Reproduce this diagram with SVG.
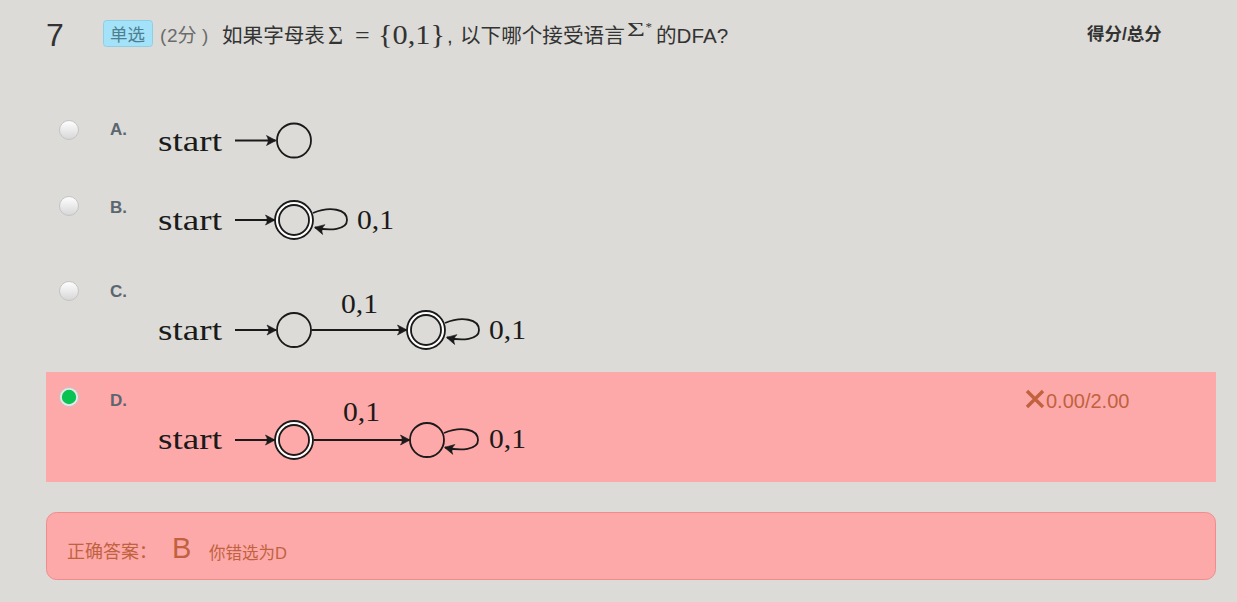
<svg xmlns="http://www.w3.org/2000/svg" width="1237" height="602" viewBox="0 0 1237 602">
<style>
.sans{font-family:"Liberation Sans","Noto Sans CJK SC",sans-serif}
.cjk{font-family:"Liberation Sans","Noto Sans CJK SC",sans-serif;font-size:20.6px;fill:#333}
.math{font-family:"Liberation Serif","Noto Sans CJK SC",serif;fill:#333}
.tk{font-family:"Liberation Serif",serif;fill:#1a1a1a}
.start{font-size:29px}
.lab{font-size:27px}
.opt{font-family:"Liberation Sans",sans-serif;font-weight:bold;font-size:17px;fill:#5b6670}
.st{fill:none;stroke:#1a1a1a;stroke-width:1.8}
.ring{fill:none;stroke:#fff;stroke-width:2.4}
.edge{fill:none;stroke:#1a1a1a;stroke-width:1.8;marker-end:url(#arr)}
.radio{fill:url(#rg);stroke:#c4c4c4;stroke-width:1}
.ans{fill:#c1623f}
</style>
<defs>
<marker id="arr" markerUnits="userSpaceOnUse" markerWidth="14" markerHeight="14" viewBox="-11 -7 12 14" refX="0" refY="0" orient="auto">
<path d="M0.5,0 L-9,-5 Q-5.5,0 -9,5 Z" fill="#1a1a1a" stroke="#1a1a1a" stroke-width="0.6" stroke-linejoin="round"/>
</marker>
<linearGradient id="rg" x1="0" y1="0" x2="0" y2="1">
<stop offset="0" stop-color="#ffffff"/>
<stop offset="1" stop-color="#d6d6d6"/>
</linearGradient>
</defs>
<rect x="0" y="0" width="1237" height="602" fill="#dcdbd7"/>

<g id="header">
<text x="46" y="46" class="sans" font-size="32" fill="#333">7</text>
<rect x="103.5" y="20.5" width="49" height="26" rx="3" fill="#a3e2f8" stroke="#8fcfe4"/>
<text x="110" y="41" class="sans" font-size="17.5" fill="#4e7f90">单选</text>
<text y="42" class="sans" font-size="19" fill="#6b6b6b"><tspan x="160">(</tspan><tspan x="167">2分</tspan><tspan x="202">)</tspan></text>
<text x="222" y="43" class="cjk">如果字母表</text>
<text x="328" y="44" class="math" font-size="26">Σ</text>
<text x="355" y="44" class="math" font-size="26">=</text>
<text x="378" y="44" class="math" font-size="27" textLength="67" lengthAdjust="spacingAndGlyphs">{0,1}</text>
<text x="447" y="43" class="cjk">,</text>
<text x="460" y="43" class="cjk">以下哪个接受语言</text>
<text x="627" y="36" class="math" font-size="19" fill="#555" textLength="18" lengthAdjust="spacingAndGlyphs">Σ</text>
<text x="645.5" y="31" class="math" font-size="13" fill="#555">*</text>
<text x="656" y="43" class="cjk">的DFA?</text>
<text x="1087" y="40" class="sans" font-size="17.5" font-weight="bold" fill="#333">得分/总分</text>
</g>

<g id="optionA">
<circle class="radio" cx="69" cy="130" r="9.5"/>
<text x="110" y="135" class="opt">A.</text>
<text x="158" y="151" class="tk start" textLength="64" lengthAdjust="spacingAndGlyphs">start</text>
<g id="A-q0"><circle class="st" cx="294" cy="140.5" r="17"/></g>
</g>

<g id="optionB">
<circle class="radio" cx="69" cy="206" r="9.5"/>
<text x="110" y="213" class="opt">B.</text>
<text x="158" y="230" class="tk start" textLength="64" lengthAdjust="spacingAndGlyphs">start</text>
<g id="B-q0"><circle class="ring" cx="294" cy="220" r="17"/><circle class="st" cx="294" cy="220" r="19"/><circle class="st" cx="294" cy="220" r="15"/></g>
<text x="357" y="229" class="tk lab" textLength="37" lengthAdjust="spacingAndGlyphs">0,1</text>
</g>

<g id="optionC">
<circle class="radio" cx="69" cy="291" r="9.5"/>
<text x="110" y="297" class="opt">C.</text>
<text x="158" y="340" class="tk start" textLength="64" lengthAdjust="spacingAndGlyphs">start</text>
<g id="C-q0"><circle class="st" cx="294" cy="330" r="17"/></g>
<g id="C-q1"><circle class="ring" cx="426" cy="330" r="17"/><circle class="st" cx="426" cy="330" r="19"/><circle class="st" cx="426" cy="330" r="15"/></g>
<text x="341" y="313" class="tk lab" textLength="37" lengthAdjust="spacingAndGlyphs">0,1</text>
<text x="489" y="339" class="tk lab" textLength="37" lengthAdjust="spacingAndGlyphs">0,1</text>
</g>

<rect x="46" y="372" width="1170" height="110" fill="#fda9a9"/>
<g id="optionD">
<circle cx="69" cy="397" r="9.5" fill="#e9e9e9" stroke="#c4c4c4"/>
<circle cx="69" cy="397" r="7.2" fill="#08c252"/>
<text x="110" y="406" class="opt">D.</text>
<text x="158" y="449" class="tk start" textLength="64" lengthAdjust="spacingAndGlyphs">start</text>
<g id="D-q0"><circle class="ring" cx="294" cy="440" r="17"/><circle class="st" cx="294" cy="440" r="19"/><circle class="st" cx="294" cy="440" r="15"/></g>
<g id="D-q1"><circle class="st" cx="427" cy="440" r="17"/></g>
<text x="343" y="421" class="tk lab" textLength="37" lengthAdjust="spacingAndGlyphs">0,1</text>
<text x="489" y="448" class="tk lab" textLength="37" lengthAdjust="spacingAndGlyphs">0,1</text>
<g id="score">
<path d="M1027,391 L1043,407 M1043,391 L1027,407" stroke="#c1623f" stroke-width="3.4" fill="none"/>
<text x="1046" y="408" class="sans ans" font-size="20">0.00/2.00</text>
</g>
</g>

<g id="connectors">
<path class="edge" d="M235,140.5 L275.5,140.5"/>
<path class="edge" d="M235,220 L274.5,220"/>
<path class="edge" d="M313,213 C330,206 347,209 347,220 C347,230 330,231 315,227.5"/>
<path class="edge" d="M235,330 L276,330"/>
<path class="edge" d="M311.5,330 L406.5,330"/>
<path class="edge" d="M445,323 C462,316 479,319 479,330 C479,340 462,341 447,337.5"/>
<path class="edge" d="M235,440 L274.5,440"/>
<path class="edge" d="M313.5,440 L409.5,440"/>
<path class="edge" d="M444,433 C461,426 478,429 478,440 C478,450 461,451 445,447.5"/>
</g>

<g id="answer">
<rect x="46.5" y="512.5" width="1169" height="67" rx="10" fill="#fda9a9" stroke="#f08c8c"/>
<text x="67" y="558" class="sans ans" font-size="18">正确答案：</text>
<text x="172" y="558" class="sans ans" font-size="29">B</text>
<text x="209" y="559" class="sans ans" font-size="16.5">你错选为D</text>
</g>
</svg>
